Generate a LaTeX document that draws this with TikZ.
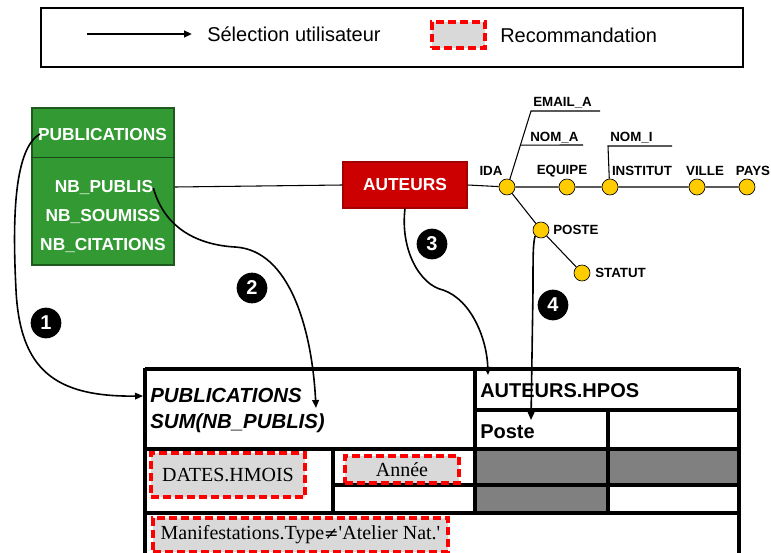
\documentclass[tikz,border=0pt]{standalone}
\usepackage{fontspec}
\setmainfont{Liberation Serif}
\setsansfont{Liberation Sans}
\usetikzlibrary{calc,arrows.meta}
\definecolor{pubgreen}{HTML}{339933}
\definecolor{pubedge}{HTML}{1E5A1E}
\definecolor{autred}{HTML}{CC0000}
\definecolor{attrfill}{HTML}{FFCC00}
\definecolor{recfill}{HTML}{D9D9D9}
\definecolor{recred}{HTML}{FF0000}
\definecolor{cellgray}{HTML}{808080}
\tikzset{
  frame/.style={draw=black, line width=0.9pt},
  sel/.style={draw=black, line width=1.2pt, -{Triangle[length=6pt,width=5pt]}},
  link/.style={draw=black, line width=0.8pt},
  grid/.style={draw=black, line width=2.3pt},
  reco/.style={draw=recred, fill=recfill, line width=2.3pt, dash pattern=on 6pt off 3pt, inner sep=0pt},
  attr/.style={circle, draw=black, line width=0.5pt, fill=attrfill, minimum size=12pt, inner sep=0pt},
  lab/.style={font=\sffamily\bfseries\fontsize{10}{12}\selectfont, inner sep=0pt},
  leg/.style={font=\sffamily\fontsize{15}{18}\selectfont, inner sep=0pt},
  boxtxt/.style={font=\sffamily\bfseries\fontsize{13}{15}\selectfont, text=white, inner sep=0pt},
  head/.style={font=\sffamily\bfseries\fontsize{15}{18}\selectfont, inner sep=0pt, anchor=west},
  ihead/.style={head, font=\sffamily\bfseries\itshape\fontsize{15.3}{18}\selectfont},
  rtxt/.style={font=\rmfamily\fontsize{15}{18}\selectfont},
  num/.style={circle, fill=black, text=white, minimum size=23pt, inner sep=0pt,
    font=\sffamily\bfseries\fontsize{15}{17}\selectfont},
}
\begin{document}
\begin{tikzpicture}[x=0.75pt,y=-0.75pt]
  \useasboundingbox (0,0) rectangle (771,553);
  % legend
  \draw[frame] (41,8) rectangle (743,67);
  \coordinate (ls) at (87,34);
  \coordinate (le) at (192,34);
  \draw[sel, line width=1.5pt] (ls) -- (le);
  \node[leg, anchor=west] (lsel) at (207,34) {Sélection utilisateur};
  \node[reco, minimum width=39.75pt, minimum height=19.5pt] (lrec) at (458.5,35) {};
  \node[leg, anchor=west] (lrect) at (500,35) {Recommandation};

  % PUBLICATIONS fact
  \node[draw=pubedge, fill=pubgreen, line width=1.2pt, minimum width=106.5pt, minimum height=117.75pt] (pub) at (103,186.5) {};
  \draw[draw=pubedge!80!black, line width=0.8pt] (pub.west |- 0,157.5) -- (pub.east |- 0,157.5);
  \node[boxtxt] (pubt) at (102.5,135) {PUBLICATIONS};
  \node[boxtxt] (nbp) at (104,188) {NB\_PUBLIS};
  \node[boxtxt] (nbs) at (103,216.5) {NB\_SOUMISS};
  \node[boxtxt] (nbc) at (103,245.5) {NB\_CITATIONS};

  % AUTEURS dimension
  \node[draw=autred!80!black, fill=autred, line width=0.8pt, minimum width=93pt, minimum height=34.5pt,
    font=\sffamily\bfseries\fontsize{13}{15}\selectfont, text=white] (aut) at (405,185) {AUTEURS};
  \node[attr] (ida) at (507,187) {};
  \node[attr] (equipe) at (567,187) {};
  \node[attr] (institut) at (610,187) {};
  \node[attr] (ville) at (697,187) {};
  \node[attr] (pays) at (747,187) {};
  \node[attr] (poste) at (541,230) {};
  \node[attr] (statut) at (582,273) {};
  \draw[link] (pub.east |- ida) -- (aut.west);
  \draw[link] (aut.east) -- (ida) -- (equipe) -- (institut) -- (ville) -- (pays);
  \draw[link] (ida) -- (poste) -- (statut);
  \coordinate (emk) at (531,111);
  \coordinate (eme) at (600,111);
  \coordinate (nak) at ($(ida.70)!0.5!(emk)$);
  \coordinate (nae) at (583,145);
  \coordinate (nik) at (608,146);
  \coordinate (nie) at (672,146);
  \draw[link] (ida.70) -- (emk) -- (eme);
  \draw[link] (nak) -- (nae);
  \draw[link] (institut.95) -- (nik) -- (nie);
  \node[lab, anchor=west] (emailA) at (533,103) {EMAIL\_A};
  \node[lab, anchor=west] (nomA) at (530,138) {NOM\_A};
  \node[lab, anchor=west] (nomI) at (610,138) {NOM\_I};
  \node[lab] (lida) at (491,171) {IDA};
  \node[lab] (lequipe) at (562,171) {EQUIPE};
  \node[lab] (linstitut) at (642,171) {INSTITUT};
  \node[lab] (lville) at (705,171) {VILLE};
  \node[lab] (lpays) at (753,171) {PAYS};
  \node[lab, anchor=west] (lposte) at (553,230) {POSTE};
  \node[lab, anchor=west] (lstatut) at (595,273) {STATUT};

  % table
  \fill[cellgray] (475,449) rectangle (739,485);
  \fill[cellgray] (475,485) rectangle (608,513);
  \draw[grid] (145,369) -- (739,369);
  \draw[grid] (475,410) -- (739,410);
  \draw[grid] (145,449) -- (739,449);
  \draw[grid] (333,485) -- (739,485);
  \draw[grid] (145,513) -- (739,513);
  \draw[grid] (145,368) -- (145,553);
  \draw[grid] (739,368) -- (739,553);
  \draw[grid] (475,369) -- (475,513);
  \draw[grid] (608,410) -- (608,513);
  \draw[grid] (333,449) -- (333,513);
  \node[ihead] (tpub) at (150,395) {PUBLICATIONS};
  \node[ihead] (tsum) at (150,423) {SUM(NB\_PUBLIS)};
  \node[head] (thpos) at (480,391) {AUTEURS.HPOS};
  \node[head] (tposte) at (480,432) {Poste};
  \node[reco, rtxt, minimum width=115.5pt, minimum height=33pt] (rmois) at (228,475) {DATES.HMOIS};
  \node[reco, rtxt, minimum width=85.5pt, minimum height=20.25pt] (rannee) at (402,469.5) {Année};
  \node[reco, rtxt, minimum width=221.25pt, minimum height=25.5pt] (rtype) at (300.5,535)
    {Manifestations.Type{\fontspec{DejaVu Serif}\fontsize{13}{15}\selectfont ≠}\textquotesingle Atelier Nat.\textquotesingle};

  % user selections
  \coordinate (a1) at (143,396);
  \coordinate (a2) at (316,408);
  \coordinate (a3) at (488,375);
  \coordinate (a4) at (531,420);
  \draw[sel] ($(pubt.west)+(2,-1)$) .. controls (12,150) and (13,230) .. (16,290)
    .. controls (20,370) and (55,397) .. (a1);
  \draw[sel] (nbp.east) .. controls (165,230) and (200,245) .. (235,247)
    .. controls (290,250) and (312,330) .. (a2);
  \draw[sel] (aut.south) .. controls (400,250) and (420,285) .. (443,290)
    .. controls (472,300) and (487,340) .. (a3);
  \draw[sel] (poste.south west) .. controls (533,244) and (533,255) .. (533,290) -- (a4);
  \node[num] (n1) at (46,323) {1};
  \node[num] (n2) at (252,288) {2};
  \node[num] (n3) at (432,244) {3};
  \node[num] (n4) at (553,305) {4};
\end{tikzpicture}
\end{document}
